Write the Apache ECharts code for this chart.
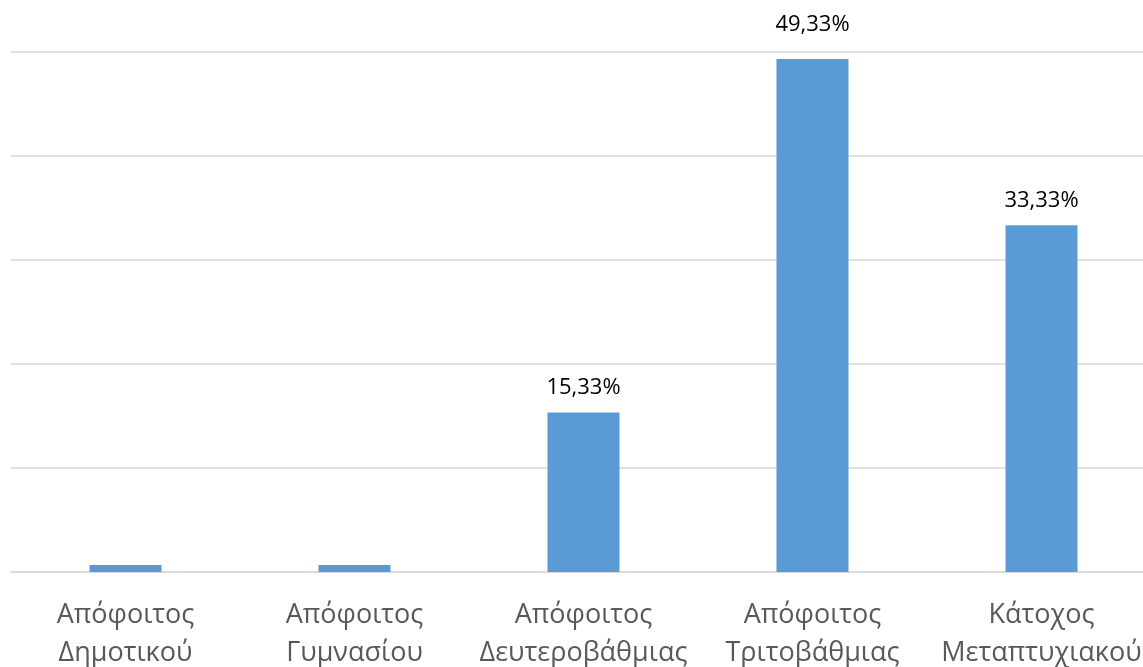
<!DOCTYPE html>
<html>
<head>
<meta charset="utf-8">
<script src="https://cdn.jsdelivr.net/npm/echarts@6/dist/echarts.min.js"></script>
<style>
  html, body { margin: 0; padding: 0; background: #fff; }
  #chart { width: 1143px; height: 667px; }
</style>
</head>
<body>
<div id="chart"></div>
<script>
// Education level shares (percent)
const categories = [
  'Απόφοιτος\nΔημοτικού',
  'Απόφοιτος\nΓυμνασίου',
  'Απόφοιτος\nΔευτεροβάθμιας',
  'Απόφοιτος\nΤριτοβάθμιας',
  'Κάτοχος\nΜεταπτυχιακού'
];
const shares = [0.67, 0.67, 15.33, 49.33, 33.33];
const showLabel = [false, false, true, true, true];
const labelGap = [14, 14, 14, 23, 14];

const chart = echarts.init(document.getElementById('chart'), null, { renderer: 'canvas' });

chart.setOption({
  animation: false,
  grid: {
    left: 11, top: 52, width: 1145, height: 520,
    outerBoundsMode: 'none', containLabel: false
  },
  xAxis: {
    type: 'category',
    data: categories,
    axisLine: { show: true, lineStyle: { color: '#d9d9d9', width: 1.5 } },
    axisTick: { show: false },
    axisLabel: {
      color: '#595959',
      fontFamily: 'Open Sans',
      fontSize: 27,
      lineHeight: 38,
      margin: 24,
      interval: 0
    }
  },
  yAxis: {
    type: 'value',
    min: 0,
    max: 50,
    interval: 10,
    axisLabel: { show: false },
    axisLine: { show: false },
    axisTick: { show: false },
    splitLine: { lineStyle: { color: '#d9d9d9', width: 1.5 } }
  },
  series: [{
    type: 'bar',
    barWidth: 72,
    itemStyle: { color: '#5b9bd5' },
    data: shares.map((v, i) => ({
      value: v,
      label: { show: showLabel[i], distance: labelGap[i] }
    })),
    label: {
      position: 'top',
      color: '#000000',
      fontFamily: 'Open Sans',
      fontSize: 22,
      formatter: p => p.value.toFixed(2).replace('.', ',') + '%'
    }
  }]
});
</script>
</body>
</html>
